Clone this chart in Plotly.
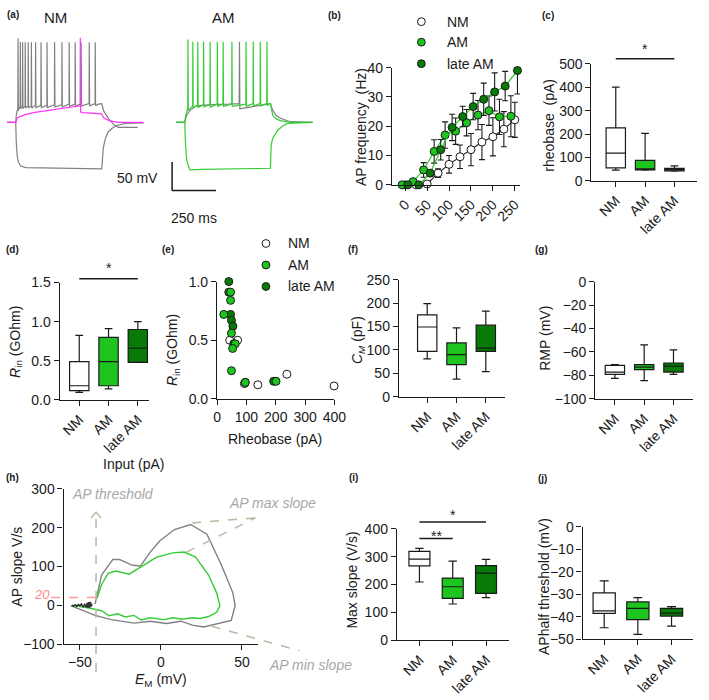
import plotly.graph_objects as go

FONT = "Liberation Sans, Arial, sans-serif"
W, H = 709, 700
INK = "#1a1a1a"
AM_GREEN = "#1ec51e"
LATE_GREEN = "#077a07"
TRACE_GREEN = "#33cc33"
TRACE_GRAY = "#808080"
MAGENTA = "#ff33ff"
NOTE_GRAY = "#a8a8a8"
DASH_COL = "#bdb8a3"

groups = ["NM", "AM", "late AM"]
fills = ["white", AM_GREEN, LATE_GREEN]

# ---- (a) example traces, time in ms from step onset, membrane potential in mV
nm_spk_t = [13, 26, 39, 54, 71, 89, 113, 144, 178, 221, 263, 304, 338, 372, 418, 452]
nm_spk_peak = [78, 72, 71, 71, 71, 71, 71, 71, 71, 71, 71, 71, 71, 71, 71, 71]
nm_spk_trough = [-45, -42, -42, -41, -41, -41, -40, -40, -40, -39, -39, -38, -38, -37, -37, -37]
nm_dep_pre_t, nm_dep_pre_v = [-50, 0, 4, 8], [-70, -70, -55, -46]
nm_dep_post_t = [470, 489, 500, 527, 560, 583, 694]
nm_dep_post_v = [-38, -37, -50, -63, -75, -79, -79]
nm_rheo_t = [-50, 0, 10, 50, 100, 200, 300, 366, 367, 369, 380, 489, 500, 530, 583, 728]
nm_rheo_v = [-70, -70, -62, -57, -53, -48, -44, -41, 79, -52, -53, -55, -62, -67, -70, -70]
nm_hyp_t = [-50, 0, 3, 8, 15, 28, 60, 200, 489, 492, 498, 510, 526, 550, 572, 620, 728]
nm_hyp_v = [-70, -70, -105, -128, -140, -147, -150, -151, -152, -140, -115, -98, -87, -80, -76, -72, -71]

am_spk_t = [18, 46, 74, 107, 144, 185, 218, 268, 348, 389, 429, 467]
am_spk_peak = [76, 72, 72, 72, 72, 72, 72, 72, 72, 72, 72, 72]
am_spk_trough = [-45, -41, -40, -39, -39, -38, -38, -38, -38, -37, -37, -37]
am_dep_pre_t, am_dep_pre_v = [-50, 0, 5, 12], [-70, -70, -58, -47]
am_dep_post_t = [480, 487, 500, 520, 544, 600, 728]
am_dep_post_v = [-37, -37, -58, -64, -67, -70, -70]
am_rheo_t = [-50, 0, 10, 30, 65, 150, 250, 309, 311, 313, 320, 487, 500, 520, 544, 600, 728]
am_rheo_v = [-70, -70, -58, -49, -41, -39, -38, -37, 72, -46, -46, -37, -49, -58, -63, -69, -70]
am_hyp_t = [-50, 0, 3, 10, 22, 30, 100, 300, 487, 491, 500, 528, 555, 583, 650, 728]
am_hyp_v = [-70, -70, -100, -135, -149, -154, -153, -152, -151, -110, -98, -84, -77, -72, -71, -70]

# ---- (b) input-output curves
cur_nm = [0, 25, 50, 75, 100, 125, 150, 175, 200, 225, 250]
cur_am = [-7, 18, 42, 66, 91, 115, 140, 166, 191, 215, 241]
cur_late = [6, 31, 57, 81, 107, 131, 155, 179, 204, 228, 256]
freq_nm = [0, 0, 0.3, 4, 7, 9.6, 12, 14.6, 16.4, 19, 22.2]
freq_am = [0, 1.1, 5.1, 11.4, 17, 18.3, 21.2, 23.8, 25.3, 23.2, 23.4]
freq_late = [0, 0, 4, 12, 19.6, 23.3, 26.7, 29.2, 31.7, 33.7, 39]
err_nm = [0, 0, 0.5, 1.5, 3, 4, 5.5, 6, 6.5, 6, 6]
err_am = [0, 0.3, 2.5, 4, 4.5, 4.5, 4.5, 5, 5, 6, 7]
err_late = [0, 0, 1, 3.5, 4.5, 3.5, 4.5, 5.5, 6.5, 5, 8]

# ---- box summaries: (low whisker, q1, median, q3, high whisker) for NM, AM, late AM
rheobase = [(46, 56, 119, 226, 400), (46, 47, 50, 88, 203), (42, 43, 49, 54, 64)]
rin = [(0.096, 0.117, 0.18, 0.49, 0.825), (0.14, 0.18, 0.49, 0.80, 0.91), (0.48, 0.48, 0.66, 0.90, 1.0)]
cm = [(81, 97, 149, 175, 199), (38, 69, 90, 115, 147), (54, 97, 104, 153, 183)]
rmp = [(-82.5, -79.2, -77.2, -71.4, -70.8), (-84.4, -75, -73, -70.8, -54), (-79.2, -77.2, -72, -69.4, -58.3)]
max_slope = [(209, 267, 291, 319, 330), (130, 150, 192, 223, 284), (153, 168, 241, 268, 290)]
ap_half = [(-44.9, -38.5, -37.4, -29.4, -24), (-47.8, -41.3, -36.3, -33.4, -31.5), (-44.2, -39.7, -38.4, -36.3, -35.5)]

# ---- (e) rin vs rheobase
rheo_nm = [43, 70, 93, 139, 238, 399]
rin_nm = [0.50, 0.50, 0.13, 0.12, 0.21, 0.11]
rheo_am = [46, 46, 23, 49, 62, 53, 49, 96, 201]
rin_am = [0.91, 0.84, 0.72, 0.56, 0.47, 0.43, 0.24, 0.14, 0.15]
rheo_late = [40, 40, 46, 49, 54, 57, 96, 193]
rin_late = [1.0, 0.91, 0.72, 0.67, 0.62, 0.47, 0.14, 0.15]

# ---- (h) phase plots, Em (mV) vs dV/dt (V/s)
em_nm = [-40.6, -36.6, -29.6, -25.6, -17.6, -12.6, -6.6, -0.6, 8.4, 18.4, 28.4, 37.4, 44.4, 45.8,
         43.4, 35.4, 26.4, 19.4, 12.4, 3.4, -6.6, -16.6, -30.6, -40.6, -50.6, -55.6]
dvdt_nm = [3, 78, 118, 118, 103, 101, 137, 166, 195, 208, 183, 103, 32, -1,
           -39, -47, -56, -51, -41, -47, -41, -46, -37, -26, -10, -1]
em_am = [-39.6, -36.6, -32.6, -27.6, -19.6, -12.6, -2.6, 7.4, 14.4, 21.4, 29.4, 34.4, 36.4, 34.4,
         29.4, 24, 19.4, 13, 7.4, 2, -6.6, -12, -16.6, -22, -26.6, -32, -36.6, -46.6, -53.6]
dvdt_am = [16, 53, 82, 88, 80, 99, 124, 135, 137, 124, 78, 32, -1, -18,
           -29, -34, -32, -36, -32, -37, -32, -38, -26, -30, -22, -27, -14, -5, -1]
em_noise = [-55, -54, -53, -52, -51, -50, -49, -48, -47, -46, -45.5, -45, -44.5, -44, -43.5, -43, -42.5]
dvdt_noise = [0, -2, 1, -3, 2, -1, 3, -4, 2, -5, 6, -6, 8, -7, 9, -3, 4]

AXIS = dict(showline=True, linecolor=INK, linewidth=1.3, ticks="outside", ticklen=5,
            tickwidth=1.3, tickcolor=INK, showgrid=False, zeroline=False,
            tickfont=dict(size=14, family=FONT, color=INK))
AX = {}
layout_axes = {}
shapes = []
annotations = []
fig = go.Figure()


def add_axes(n, xdom, ydom, xr, yr, visible=True, xkw=None, ykw=None):
    AX[n] = (xdom, ydom, xr, yr)
    sx = "" if n == 1 else str(n)
    xa = dict(domain=[xdom[0] / W, xdom[1] / W], range=xr, anchor="y" + sx)
    ya = dict(domain=[1 - ydom[1] / H, 1 - ydom[0] / H], range=yr, anchor="x" + sx)
    if visible:
        xa.update(AXIS)
        ya.update(AXIS)
    else:
        xa.update(visible=False)
        ya.update(visible=False)
    xa.update(xkw or {})
    ya.update(ykw or {})
    layout_axes["xaxis" + sx] = xa
    layout_axes["yaxis" + sx] = ya


def refs(n):
    sx = "" if n == 1 else str(n)
    return dict(xaxis="x" + sx, yaxis="y" + sx)


def to_px(n, x, y):
    (xa, xb), (yt, yb), (r0, r1), (s0, s1) = AX[n]
    return xa + (x - r0) / (r1 - r0) * (xb - xa), yb - (y - s0) / (s1 - s0) * (yb - yt)


def line_px(x0, y0, x1, y1, color=INK, width=1.3, dash="solid"):
    shapes.append(dict(type="line", xref="paper", yref="paper", x0=x0 / W, x1=x1 / W,
                       y0=1 - y0 / H, y1=1 - y1 / H, line=dict(color=color, width=width, dash=dash)))


def text(x, y, s, size=14, color=INK, angle=0, xanchor="center", italic=False, bold=False):
    if italic:
        s = "<i>" + s + "</i>"
    if bold:
        s = "<b>" + s + "</b>"
    annotations.append(dict(x=x / W, y=1 - y / H, xref="paper", yref="paper", text=s,
                            showarrow=False, textangle=angle, xanchor=xanchor, yanchor="middle",
                            font=dict(size=size, color=color, family=FONT)))


def dot_px(x, y, fill, r=4):
    shapes.append(dict(type="circle", xref="paper", yref="paper", x0=(x - r) / W, x1=(x + r) / W,
                       y0=1 - (y + r) / H, y1=1 - (y - r) / H, fillcolor=fill,
                       line=dict(color=INK, width=1)))


def arrow_head(x, y, color, size=5):
    # small open chevron pointing up, at pixel position (x, y)
    p = [(x - size, y + size * 1.2), (x, y), (x + size, y + size * 1.2)]
    path = "M " + " L ".join(f"{a / W},{1 - b / H}" for a, b in p)
    shapes.append(dict(type="path", xref="paper", yref="paper", path=path,
                       line=dict(color=color, width=1.5)))


def spike_train(pre_t, pre_v, spk_t, peaks, troughs, post_t, post_v):
    t, v = list(pre_t), list(pre_v)
    for ts, pk, tr in zip(spk_t, peaks, troughs):
        t += [ts - 1, ts, ts + 2]
        v += [tr, pk, tr - 4]
    return t + list(post_t), v + list(post_v)


def boxes(n, stats, width):
    for i, (st, fill) in enumerate(zip(stats, fills)):
        lo, q1, med, q3, hi = st
        fig.add_trace(go.Box(x=[i], lowerfence=[lo], q1=[q1], median=[med], q3=[q3],
                             upperfence=[hi], fillcolor=fill, line=dict(color=INK, width=1.2),
                             width=width, whiskerwidth=0.4, boxpoints=False,
                             showlegend=False, hoverinfo="skip", **refs(n)))


def sig(n, c0, c1, ybar, label, ystar):
    x0, _ = to_px(n, c0, 0)
    x1, _ = to_px(n, c1, 0)
    line_px(x0, ybar, x1, ybar, width=1.5)
    text((x0 + x1) / 2, ystar, label, size=14)


cat_x = dict(tickvals=[0, 1, 2], ticktext=groups, tickangle=-45)

# ---------------- (a)
add_axes(1, (3, 143), (20, 200), [-50, 728], [-213, 97], visible=False)
add_axes(2, (170, 316), (20, 200), [-83, 728], [-213, 97], visible=False)
t, v = spike_train(nm_dep_pre_t, nm_dep_pre_v, nm_spk_t, nm_spk_peak, nm_spk_trough,
                   nm_dep_post_t, nm_dep_post_v)
for tt, vv, col in [(nm_hyp_t, nm_hyp_v, TRACE_GRAY), (t, v, TRACE_GRAY), (nm_rheo_t, nm_rheo_v, MAGENTA)]:
    fig.add_trace(go.Scatter(x=tt, y=vv, mode="lines", line=dict(color=col, width=1.2),
                             showlegend=False, hoverinfo="skip", **refs(1)))
t, v = spike_train(am_dep_pre_t, am_dep_pre_v, am_spk_t, am_spk_peak, am_spk_trough,
                   am_dep_post_t, am_dep_post_v)
for tt, vv, col in [(am_rheo_t, am_rheo_v, TRACE_GRAY), (am_hyp_t, am_hyp_v, TRACE_GREEN), (t, v, TRACE_GREEN)]:
    fig.add_trace(go.Scatter(x=tt, y=vv, mode="lines", line=dict(color=col, width=1.2),
                             showlegend=False, hoverinfo="skip", **refs(2)))
# scale bar 50 mV / 250 ms
sb_t, sb_v = -72, -190
bx0, by0 = to_px(2, sb_t, sb_v)
bx1, _ = to_px(2, sb_t + 250, sb_v)
_, by1 = to_px(2, sb_t, sb_v + 50)
line_px(bx0, by0, bx0, by1, width=1.5)
line_px(bx0, by0, bx1, by0, width=1.5)
text(bx0 - 12, (by0 + by1) / 2 + 2, "50 mV", xanchor="right")
text((bx0 + bx1) / 2, by0 + 28, "250 ms")
text(53, 10, "NM", size=15)
text(225, 10, "AM", size=15)

# ---------------- (b)
add_axes(3, (397, 528), (61, 181), [-30, 262], [0, 40],
         xkw=dict(tickvals=[0, 50, 100, 150, 200, 250], tickangle=-45),
         ykw=dict(tickvals=[0, 10, 20, 30, 40]))
for cx, fy, er, fill, lc in [(cur_nm, freq_nm, err_nm, "white", INK),
                              (cur_am, freq_am, err_am, AM_GREEN, AM_GREEN),
                              (cur_late, freq_late, err_late, LATE_GREEN, AM_GREEN)]:
    fig.add_trace(go.Scatter(x=cx, y=fy, mode="lines+markers", cliponaxis=False,
                             line=dict(color=lc, width=1.1),
                             marker=dict(size=8, color=fill, line=dict(color=INK, width=1)),
                             error_y=dict(type="data", array=er, color=INK, thickness=1.1, width=3),
                             showlegend=False, hoverinfo="skip", **refs(3)))
text(365, 122, "AP frequency  (Hz)", angle=-90)
for yy, lab, fill in zip([14, 35, 57], groups, fills):
    dot_px(427, yy, fill)
    text(451, yy, lab, xanchor="left")

# ---------------- (c)
add_axes(4, (601, 709), (57, 177), [-0.83, 2.77], [0, 500], xkw=cat_x,
         ykw=dict(tickvals=[0, 100, 200, 300, 400, 500]))
boxes(4, rheobase, 0.66)
text(558, 120, "rheobase  (pA)", angle=-90)
sig(4, 0, 2, 52, "*", 42)

# ---------------- (d)
add_axes(5, (57, 148), (281, 401), [-0.667, 2.37], [0, 1.5], xkw=cat_x,
         ykw=dict(tickvals=[0, 0.5, 1.0, 1.5], tickformat=".1f"))
boxes(5, rin, 0.66)
text(12, 342, "<i>R</i><sub>in</sub> (GOhm)", angle=-90)
sig(5, 0, 2, 277, "*", 266)
text(132, 467, "Input (pA)")

# ---------------- (e)
add_axes(6, (218, 338), (280, 400), [0, 400], [0, 1.0],
         xkw=dict(tickvals=[0, 100, 200, 300, 400]),
         ykw=dict(tickvals=[0, 0.5, 1.0], tickformat=".1f"))
for rx, ry, fill in [(rheo_nm, rin_nm, "white"), (rheo_late, rin_late, LATE_GREEN), (rheo_am, rin_am, AM_GREEN)]:
    fig.add_trace(go.Scatter(x=rx, y=ry, mode="markers", cliponaxis=False,
                             marker=dict(size=8, color=fill, line=dict(color=INK, width=1)),
                             showlegend=False, hoverinfo="skip", **refs(6)))
text(173, 350, "<i>R</i><sub>in</sub> (GOhm)", angle=-90)
text(277, 441, "Rheobase (pA)")
for yy, lab, fill in zip([241, 263, 285], groups, fills):
    dot_px(268, yy, fill)
    text(289, yy, lab, xanchor="left")

# ---------------- (f)
add_axes(7, (404, 513), (278, 398), [-0.967, 2.67], [0, 250], xkw=cat_x,
         ykw=dict(tickvals=[0, 50, 100, 150, 200, 250]))
boxes(7, cm, 0.66)
text(362, 340, "<i>C<sub>M</sub></i> (pF)", angle=-90)

# ---------------- (g)
add_axes(8, (605, 705), (280, 400), [-0.667, 2.67], [-100, 0], xkw=cat_x,
         ykw=dict(tickvals=[-100, -80, -60, -40, -20, 0]))
boxes(8, rmp, 0.66)
text(554, 338, "RMP (mV)", angle=-90)

# ---------------- (h)
add_axes(9, (61, 260), (492, 651), [-60, 60], [-100, 300],
         xkw=dict(tickvals=[-50, 0, 50]), ykw=dict(tickvals=[-100, 0, 100, 200, 300]))
fig.add_trace(go.Scatter(x=em_nm, y=dvdt_nm, mode="lines", line=dict(color=TRACE_GRAY, width=1.4),
                         showlegend=False, hoverinfo="skip", **refs(9)))
fig.add_trace(go.Scatter(x=em_am, y=dvdt_am, mode="lines", line=dict(color=TRACE_GREEN, width=1.4),
                         showlegend=False, hoverinfo="skip", **refs(9)))
fig.add_trace(go.Scatter(x=em_noise, y=dvdt_noise, mode="lines", line=dict(color="#333333", width=1.6),
                         showlegend=False, hoverinfo="skip", **refs(9)))
thr_x, _ = to_px(9, -40, 0)
_, thr_top = to_px(9, 0, 240)
_, thr_bot = to_px(9, 0, -172)
line_px(thr_x, thr_bot, thr_x, thr_top + 1, color=DASH_COL, width=1.5, dash="dash")
arrow_head(thr_x, thr_top, DASH_COL)
_, y20 = to_px(9, 0, 20)
line_px(48, y20, thr_x, y20, color="#ff9c9c", width=1.5, dash="dash")
text(39, y20 - 3, "20", size=13, color="#ff8a8a", italic=True)
mx0, my0 = to_px(9, 19.3, 212)
mx1, my1 = to_px(9, 15.7, 137)
ex, ey = to_px(9, 58.4, 225)
line_px(mx0, my0, ex, ey, color=DASH_COL, width=1.5, dash="dash")
line_px(mx1, my1, ex, ey, color=DASH_COL, width=1.5, dash="dash")
nx0, ny0 = to_px(9, 31.3, -54)
nx1, ny1 = to_px(9, 85.5, -117)
line_px(nx0, ny0, nx1, ny1, color=DASH_COL, width=1.5, dash="dash")
text(112, 497, "AP threshold", color=NOTE_GRAY, italic=True)
text(275, 507, "AP max slope", color=NOTE_GRAY, italic=True)
text(314, 672, "AP min slope", color=NOTE_GRAY, italic=True)
text(13, 572, "AP slope V/s", angle=-90)
text(161, 688, "<i>E</i><sub>M</sub> (mV)")

# ---------------- (i)
add_axes(10, (402, 517), (533, 647), [-0.676, 2.7], [0, 400], xkw=cat_x,
         ykw=dict(tickvals=[0, 100, 200, 300, 400]))
boxes(10, max_slope, 0.63)
text(356, 585, "Max slope (V/s)", angle=-90)
sig(10, 0, 2, 526, "*", 519)
sig(10, 0, 1, 543, "**", 540)

# ---------------- (j)
add_axes(11, (592, 705), (531, 646), [-0.64, 2.64], [-50, 0], xkw=cat_x,
         ykw=dict(tickvals=[-50, -40, -30, -20, -10, 0]))
boxes(11, ap_half, 0.66)
text(553, 592, "APhalf threshold (mV)", angle=-90)

# panel letters
for lab, x, y in [("(a)", 9, 7), ("(b)", 338, 8), ("(c)", 557, 8), ("(d)", 9, 247), ("(e)", 168, 247),
                  ("(f)", 357, 247), ("(g)", 550, 247), ("(h)", 9, 480), ("(i)", 358, 480), ("(j)", 551, 481)]:
    text(x, y, lab, size=10, bold=True)

fig.update_layout(width=W, height=H, margin=dict(l=0, r=0, t=0, b=0),
                  paper_bgcolor="white", plot_bgcolor="white", showlegend=False,
                  font=dict(family=FONT, color=INK), shapes=shapes, annotations=annotations,
                  **layout_axes)
fig.write_html("out.html", config={"displayModeBar": False},
               post_script="document.body.style.margin = '0';")
